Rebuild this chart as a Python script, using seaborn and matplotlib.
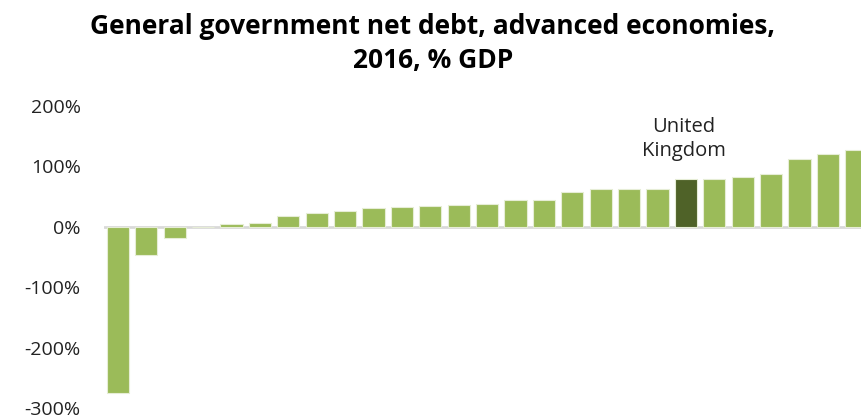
import matplotlib
matplotlib.use("Agg")
import matplotlib.pyplot as plt
import seaborn as sns
import pandas as pd

# Net debt by economy, sorted ascending (% of GDP)
positions = list(range(27))
net_debt = [-275, -47, -18, 0, 5.5, 6.6, 18.7, 22.6, 25.9, 32, 33.6, 34.7, 35.8,
            38.6, 45, 45, 57, 62, 62, 63, 80, 80, 82, 88, 113, 121, 127]
highlight_index = 20
highlight_label = "United\nKingdom"
y_ticks = [-300, -200, -100, 0, 100, 200]
y_tick_labels = ["-300%", "-200%", "-100%", "0%", "100%", "200%"]

light_green = "#9BBB59"
dark_green = "#4F6228"

sns.set_theme(style="white")
plt.rcParams["font.family"] = ["Open Sans", "DejaVu Sans"]

df = pd.DataFrame({"pos": positions, "value": net_debt})
df["group"] = ["uk" if i == highlight_index else "other" for i in positions]

fig = plt.figure(figsize=(8.62, 4.16), dpi=100)
ax = fig.add_axes([0.1204, 0.019, 0.8796, 0.726])

sns.barplot(data=df, x="pos", y="value", hue="group",
            palette={"other": light_green, "uk": dark_green},
            dodge=False, width=0.78, legend=False, ax=ax, saturation=1,
            edgecolor="#E6EDD6", linewidth=0.8)

ax.set_xlim(-0.5, 26.2)
ax.set_ylim(-300, 200)
ax.set_yticks(y_ticks)
ax.set_yticklabels(y_tick_labels, fontsize=14, color="#222222")
ax.tick_params(axis="y", length=0, pad=16.5)
ax.set_xticks([])
ax.set_xlabel("")
ax.set_ylabel("")
for s in ax.spines.values():
    s.set_visible(False)
ax.axhline(0, color="#D9D9D9", linewidth=2, zorder=0.5)

ax.text(highlight_index - 0.07, net_debt[highlight_index] + 29, highlight_label,
        ha="center", va="bottom", fontsize=14.5, color="#222222",
        linespacing=1.25)

fig.suptitle("General government net debt, advanced economies,\n2016, % GDP",
             x=0.502, y=0.968, fontsize=19, fontweight="bold", color="black",
             linespacing=1.3)

fig.savefig("out.png", dpi=100)
